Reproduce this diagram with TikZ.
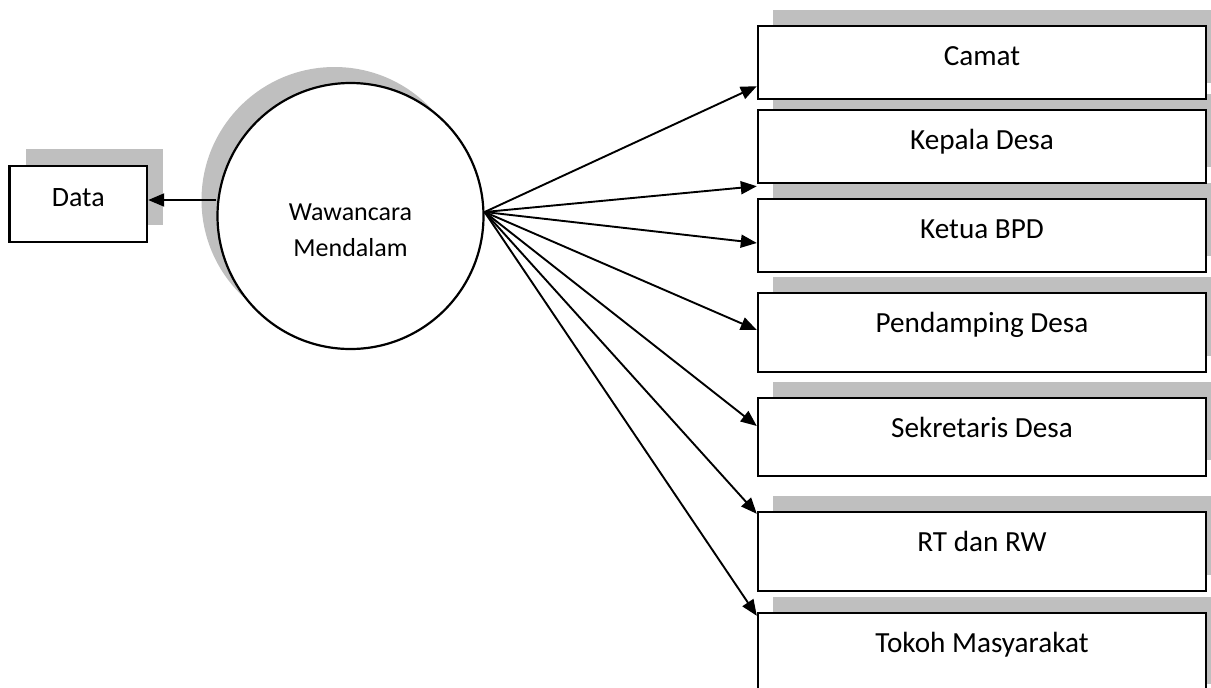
\documentclass[tikz,border=0pt]{standalone}
\usepackage{fontspec}
\setmainfont{Carlito}
\usetikzlibrary{arrows.meta}
\definecolor{shade}{HTML}{BFBFBF}
\begin{document}
\begin{tikzpicture}[x=0.5pt,y=-0.5pt,
  box/.style={draw=black,line width=1.2pt,fill=white,rectangle,minimum width=224pt,inner sep=0pt},
  lbl/.style={font=\fontsize{14.6}{17}\selectfont,anchor=base,yshift=-20.5pt},
  conn/.style={line width=0.95pt,-{Triangle[length=8pt,width=6.5pt]}},
  shadowfill/.style={fill=shade}]
\useasboundingbox (0,0) rectangle (1211,687);
\clip (0,0) rectangle (1211,687);
% shadows
\fill[shadowfill] (25.5,149) rectangle (163,225);
\fill[shadowfill] (334.5,200) circle[radius=66.5pt];
\fill[shadowfill] (773,10) rectangle (1221,83);
\fill[shadowfill] (773,94) rectangle (1221,167);
\fill[shadowfill] (773,183) rectangle (1221,256);
\fill[shadowfill] (773,277) rectangle (1221,356);
\fill[shadowfill] (773,382) rectangle (1221,460);
\fill[shadowfill] (773,496) rectangle (1221,575);
\fill[shadowfill] (773,597) rectangle (1221,684);
% nodes
\node[box,minimum width=68.75pt,minimum height=38pt,
  label={[font=\fontsize{14}{17}\selectfont,anchor=center,yshift=3pt]center:Data}] (data) at (78.25,204) {};
\node[circle,draw=black,line width=1.1pt,fill=white,minimum size=133pt,inner sep=0pt,
  label={[font=\fontsize{13}{18}\selectfont,align=center,anchor=center,yshift=-7.3pt]center:Wawancara\\Mendalam}] (wm) at (350.5,216) {};
\node[box,minimum height=36.5pt,label={[lbl]north:Camat}] (camat) at (982,62.5) {};
\node[box,minimum height=36.5pt,label={[lbl]north:Kepala Desa}] (kepala) at (982,146.5) {};
\node[box,minimum height=36.5pt,label={[lbl]north:Ketua BPD}] (ketua) at (982,235.5) {};
\node[box,minimum height=39.5pt,label={[lbl]north:Pendamping Desa}] (pendamping) at (982,332.5) {};
\node[box,minimum height=39pt,label={[lbl]north:Sekretaris Desa}] (sekretaris) at (982,437) {};
\node[box,minimum height=39.5pt,label={[lbl]north:RT dan RW}] (rt) at (982,551.5) {};
\node[box,minimum height=43.5pt,label={[lbl]north:Tokoh Masyarakat}] (tokoh) at (982,656.5) {};
% connectors
\coordinate (hub) at ([yshift=2pt]wm.east);
\draw[conn] ([yshift=8pt]wm.west) -- ([yshift=2pt]data.east);
\draw[conn] (hub) -- ([yshift=7pt]camat.south west);
\draw[conn] (hub) -- ([yshift=-1pt]kepala.south west);
\draw[conn] (hub) -- ([yshift=-3.75pt]ketua.west);
\draw[conn] (hub) -- ([yshift=1.25pt]pendamping.west);
\draw[conn] (hub) -- ([yshift=5.5pt]sekretaris.west);
\draw[conn] (hub) -- ([yshift=-1.5pt]rt.north west);
\draw[conn] (hub) -- ([yshift=-2pt]tokoh.north west);
\end{tikzpicture}
\end{document}
